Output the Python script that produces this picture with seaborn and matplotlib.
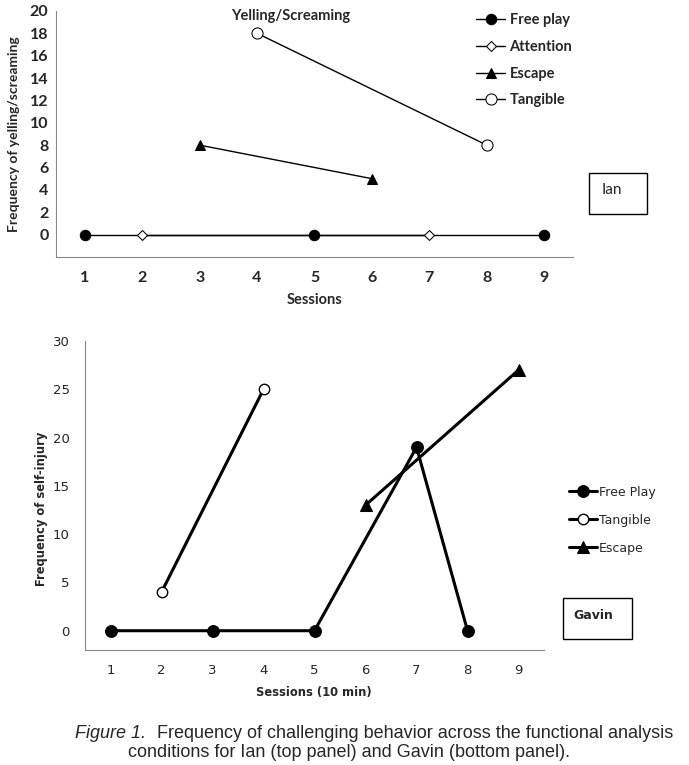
import matplotlib
matplotlib.use("Agg")
import matplotlib.pyplot as plt
from matplotlib.patches import Rectangle
import seaborn as sns

# Ian (top panel) - yelling/screaming
ian_free_x = [1, 5, 9]
ian_free_y = [0, 0, 0]
ian_att_x = [2, 7]
ian_att_y = [0, 0]
ian_esc_x = [3, 6]
ian_esc_y = [8, 5]
ian_tan_x = [4, 8]
ian_tan_y = [18, 8]

# Gavin (bottom panel) - self-injury
gav_free_x = [1, 3, 5, 7, 8]
gav_free_y = [0, 0, 0, 19, 0]
gav_tan_x = [2, 4]
gav_tan_y = [4, 25]
gav_esc_x = [6, 9]
gav_esc_y = [13, 27]

sessions = list(range(1, 10))

sns.set_style("white")
plt.rcParams['font.family'] = ['DejaVu Sans']

fig = plt.figure(figsize=(6.89, 7.65), dpi=100)

""" Верхняя панель: Ian """
ax1 = fig.add_axes([0.0813, 0.6641, 0.7503, 0.3216])
top_font = ['Lato', 'DejaVu Sans']
sns.lineplot(x=ian_free_x, y=ian_free_y, ax=ax1, color='black', linewidth=1,
             marker='o', markersize=7.5, markerfacecolor='black', markeredgecolor='black',
             label='Free play')
sns.lineplot(x=ian_att_x, y=ian_att_y, ax=ax1, color='black', linewidth=1,
             marker='D', markersize=5.5, markerfacecolor='white', markeredgecolor='black',
             label='Attention')
sns.lineplot(x=ian_esc_x, y=ian_esc_y, ax=ax1, color='black', linewidth=1,
             marker='^', markersize=7.5, markerfacecolor='black', markeredgecolor='black',
             label='Escape')
sns.lineplot(x=ian_tan_x, y=ian_tan_y, ax=ax1, color='black', linewidth=1,
             marker='o', markersize=8, markerfacecolor='white', markeredgecolor='black',
             label='Tangible')
ax1.set_xlim(0.5, 9.5)
ax1.set_ylim(-2, 20)
ax1.set_yticks(range(0, 21, 2))
ax1.set_xticks(sessions)
ax1.set_xticks([s + 0.5 for s in range(0, 10)], minor=True)
ax1.tick_params(axis='x', which='major', length=0, pad=10)
ax1.tick_params(axis='x', which='minor', length=5, color='#888888', direction='out')
ax1.tick_params(axis='y', length=4.5, color='#888888', direction='out', pad=1)
for lab in ax1.get_xticklabels() + ax1.get_yticklabels():
    lab.set_fontfamily(top_font)
    lab.set_fontweight('bold')
    lab.set_fontsize(11.5)
ax1.spines['top'].set_visible(False)
ax1.spines['right'].set_visible(False)
ax1.spines['left'].set_color('#888888')
ax1.spines['bottom'].set_color('#888888')
ax1.set_xlabel('Sessions', fontfamily=top_font, fontweight='bold', fontsize=10.5)
ax1.set_ylabel('Frequency of yelling/screaming', fontfamily=top_font, fontweight='bold', fontsize=10)
ax1.xaxis.set_label_coords(0.5, -0.146)
ax1.yaxis.set_label_coords(-0.070, 0.5)
ax1.text(4.58, 19.55, 'Yelling/Screaming', fontfamily=top_font, fontweight='bold',
         fontsize=10.5, ha='center', va='center')
leg1 = ax1.legend(loc='upper left', bbox_to_anchor=(0.787, 1.045), frameon=False,
                  prop={'family': top_font, 'weight': 'bold', 'size': 10.5},
                  handlelength=2.0, handletextpad=0.3, labelspacing=0.88)
fig.add_artist(Rectangle((0.8549, 0.7203), 0.0842, 0.0536, transform=fig.transFigure,
                         facecolor='white', edgecolor='black', linewidth=1))
fig.text(0.8737, 0.7516, 'Ian', fontfamily=top_font, fontsize=11, ha='left', va='center')

""" Нижняя панель: Gavin """
ax2 = fig.add_axes([0.1234, 0.1503, 0.6662, 0.4039])
sns.lineplot(x=gav_free_x, y=gav_free_y, ax=ax2, color='black', linewidth=2.2,
             marker='o', markersize=8.5, markerfacecolor='black', markeredgecolor='black',
             label='Free Play')
sns.lineplot(x=gav_tan_x, y=gav_tan_y, ax=ax2, color='black', linewidth=2.2,
             marker='o', markersize=7.5, markerfacecolor='white', markeredgecolor='black',
             markeredgewidth=1, label='Tangible')
sns.lineplot(x=gav_esc_x, y=gav_esc_y, ax=ax2, color='black', linewidth=2.2,
             marker='^', markersize=8.5, markerfacecolor='black', markeredgecolor='black',
             label='Escape')
ax2.set_xlim(0.5, 9.5)
ax2.set_ylim(-2, 30)
ax2.set_yticks(range(0, 31, 5))
ax2.set_xticks(sessions)
ax2.set_xticks([s + 0.5 for s in range(0, 10)], minor=True)
ax2.tick_params(axis='x', which='major', length=0, pad=10, labelsize=9.5)
ax2.tick_params(axis='x', which='minor', length=5, color='#888888', direction='out')
ax2.tick_params(axis='y', length=4, color='#888888', direction='out', labelsize=9.5, pad=7)
ax2.spines['top'].set_visible(False)
ax2.spines['right'].set_visible(False)
ax2.spines['left'].set_color('#888888')
ax2.spines['bottom'].set_color('#888888')
ax2.set_xlabel('Sessions (10 min)', fontweight='bold', fontsize=8.3)
ax2.set_ylabel('Frequency of self-injury', fontweight='bold', fontsize=8.3)
ax2.xaxis.set_label_coords(0.499, -0.117)
ax2.yaxis.set_label_coords(-0.081, 0.456)
leg2 = ax2.legend(loc='upper left', bbox_to_anchor=(1.029, 0.568), frameon=False,
                  prop={'size': 9}, handlelength=2.3, handletextpad=0.15, labelspacing=1.2)
fig.add_artist(Rectangle((0.8171, 0.1647), 0.1001, 0.0536, transform=fig.transFigure,
                         facecolor='white', edgecolor='black', linewidth=1))
fig.text(0.8316, 0.196, 'Gavin', fontsize=9, fontweight='bold', ha='left', va='center')

""" Подпись к рисунку """
cap_font = ['Liberation Sans', 'DejaVu Sans']
fig.text(0.1089, 0.0418, 'Figure 1.', fontfamily=cap_font, style='italic', fontsize=13,
         ha='left', va='center')
fig.text(0.2279, 0.0418, 'Frequency of challenging behavior across the functional analysis',
         fontfamily=cap_font, fontsize=13, ha='left', va='center')
fig.text(0.1858, 0.0157, 'conditions for Ian (top panel) and Gavin (bottom panel).',
         fontfamily=cap_font, fontsize=13, ha='left', va='center')

fig.savefig('out.png', dpi=100)
